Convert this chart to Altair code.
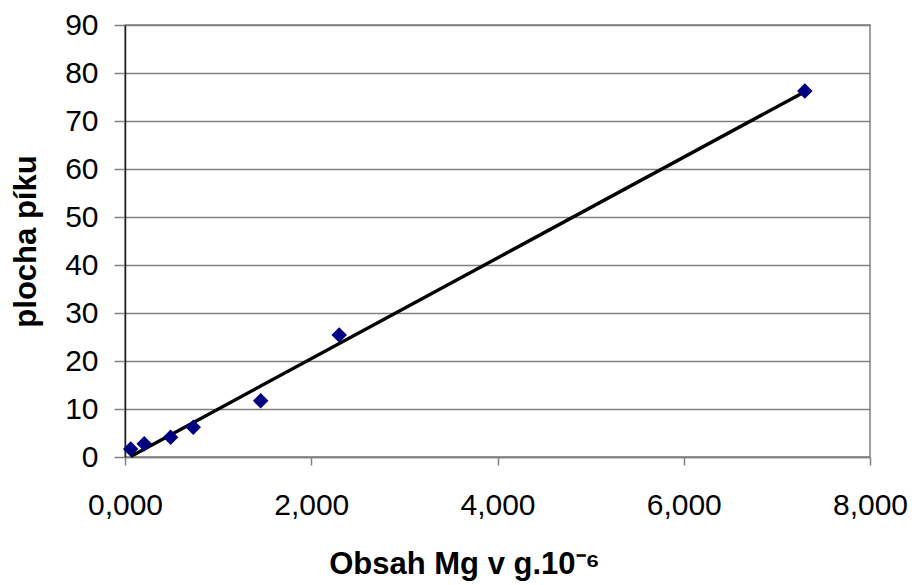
import altair as alt
import pandas as pd

mg_content = [0.061, 0.207, 0.49, 0.733, 1.457, 2.30, 7.30]
peak_area = [1.67, 2.77, 4.1, 6.2, 11.7, 25.4, 76.25]

df = pd.DataFrame({"x": mg_content, "y": peak_area})

FONT = "Liberation Sans"

xscale = alt.Scale(domain=[0, 8], nice=False, zero=False)
yscale = alt.Scale(domain=[0, 90], nice=False)

xaxis = alt.Axis(
    title="Obsah Mg v g.10⁻⁶",
    values=[0, 2, 4, 6, 8],
    labelExpr="replace(format(datum.value, '.3f'), '.', ',')",
    labelFlush=False,
    labelOverlap=False,
    grid=False,
    domainColor="#808080",
    domainWidth=1.5,
    tickColor="#808080",
    tickWidth=1.5,
    tickSize=8,
    labelPadding=25,
    labelFontSize=30,
    labelFont=FONT,
    labelColor="black",
    titleFontSize=31,
    titleFont=FONT,
    titleFontWeight="bold",
    titleColor="black",
    titlePadding=29,
    titleX=339,
    titleAlign="center",
)

yaxis = alt.Axis(
    title="plocha píku",
    values=list(range(0, 91, 10)),
    labelFlush=False,
    labelOverlap=False,
    grid=True,
    gridColor="#808080",
    gridWidth=1.5,
    domainColor="#222222",
    domainWidth=1.5,
    tickColor="#808080",
    tickWidth=1.5,
    tickSize=11,
    labelPadding=16,
    labelFontSize=30,
    labelFont=FONT,
    labelColor="black",
    titleFontSize=31,
    titleFont=FONT,
    titleFontWeight="bold",
    titleColor="black",
    titlePadding=22,
)

base = alt.Chart(df)

points = base.mark_point(
    shape="diamond", filled=True, color="#000080", size=240, opacity=1
).encode(
    x=alt.X("x:Q", scale=xscale, axis=xaxis),
    y=alt.Y("y:Q", scale=yscale, axis=yaxis),
)

trend = base.transform_regression("x", "y", method="linear").mark_line(
    color="black", strokeWidth=3.4
).encode(
    x=alt.X("x:Q", scale=xscale),
    y=alt.Y("y:Q", scale=yscale),
)

chart = (
    alt.layer(trend, points)
    .properties(
        width=745,
        height=432,
        autosize=alt.AutoSizeParams(type="none"),
        padding={"left": 125, "top": 25, "right": 46, "bottom": 128},
        background="white",
    )
    .configure_view(stroke="#808080", strokeWidth=1.5)
)

chart.save("out.html", embed_options={"renderer": "svg", "actions": False})
